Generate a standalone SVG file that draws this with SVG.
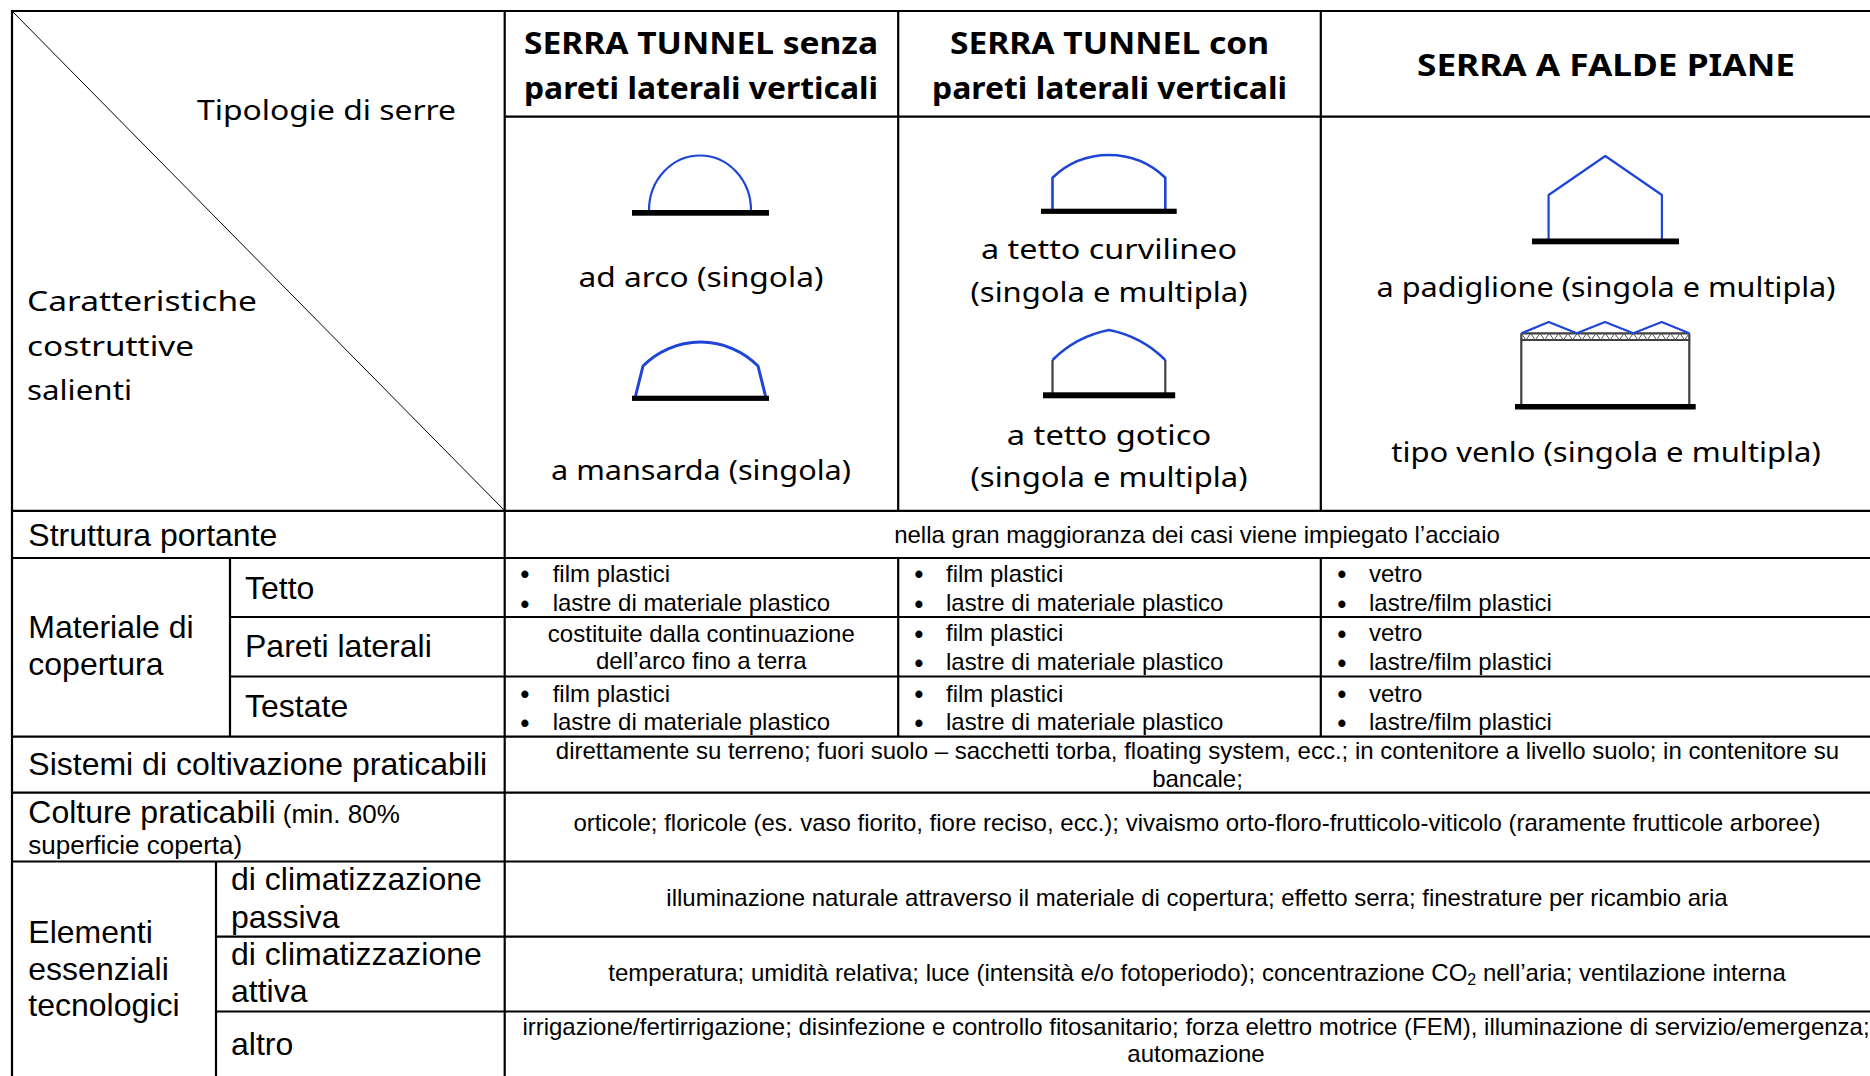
<svg xmlns="http://www.w3.org/2000/svg" width="1870" height="1076" viewBox="0 0 1870 1076">
<defs>
<style>
.grid line{stroke:#000;stroke-width:2.2;fill:none}
.diag{stroke:#000;stroke-width:1;fill:none}
.cb{font-family:"Comic Sans MS","Noto Sans",sans-serif;font-weight:bold;font-size:30px;fill:#000}
.cr{font-family:"Comic Sans MS","Noto Sans",sans-serif;font-size:28px;fill:#000}
.lb{font-family:"Liberation Sans",Arial,sans-serif;font-size:32px;fill:#000}
.tx{font-family:"Liberation Sans",Arial,sans-serif;font-size:24px;fill:#000}
.sm{font-family:"Liberation Sans",Arial,sans-serif;font-size:26px;fill:#000}
.bu{font-family:"Liberation Sans",Arial,sans-serif;font-size:25px;font-weight:bold;fill:#000}
.mid{text-anchor:middle}
.blue{stroke:#1f45d6;stroke-width:2.2;fill:none;stroke-linejoin:round}
.gray{stroke:#404040;stroke-width:2.2;fill:none}
.base{fill:#000}
</style>
</defs>
<rect x="0" y="0" width="1870" height="1076" fill="#fff"/>

<g id="grid" class="grid">
<line x1="12" y1="11" x2="1870" y2="11"/>
<line x1="504.5" y1="116.7" x2="1870" y2="116.7"/>
<line x1="12" y1="510.8" x2="1870" y2="510.8"/>
<line x1="12" y1="558" x2="1870" y2="558"/>
<line x1="230" y1="617" x2="1870" y2="617"/>
<line x1="230" y1="676.5" x2="1870" y2="676.5"/>
<line x1="12" y1="736.7" x2="1870" y2="736.7"/>
<line x1="12" y1="792.7" x2="1870" y2="792.7"/>
<line x1="12" y1="861.5" x2="1870" y2="861.5"/>
<line x1="216" y1="936.7" x2="1870" y2="936.7"/>
<line x1="216" y1="1011.5" x2="1870" y2="1011.5"/>
<line x1="12" y1="10" x2="12" y2="1076"/>
<line x1="504.7" y1="10" x2="504.7" y2="1076"/>
<line x1="898.2" y1="10" x2="898.2" y2="510.8"/>
<line x1="898.2" y1="558" x2="898.2" y2="736.7"/>
<line x1="1320.8" y1="10" x2="1320.8" y2="510.8"/>
<line x1="1320.8" y1="558" x2="1320.8" y2="736.7"/>
<line x1="230" y1="558" x2="230" y2="736.7"/>
<line x1="216" y1="861.5" x2="216" y2="1076"/>
</g>
<line id="diagonal" class="diag" x1="12" y1="11" x2="504.5" y2="510.5"/>

<g id="corner">
<text class="cr" x="197" y="120" textLength="259" lengthAdjust="spacingAndGlyphs">Tipologie di serre</text>
<text class="cr" x="27" y="311" textLength="230" lengthAdjust="spacingAndGlyphs">Caratteristiche</text>
<text class="cr" x="27" y="355.5" textLength="167" lengthAdjust="spacingAndGlyphs">costruttive</text>
<text class="cr" x="27" y="400" textLength="105" lengthAdjust="spacingAndGlyphs">salienti</text>
</g>

<g id="head-tunnel-senza">
<text class="cb mid" x="701" y="54" textLength="354" lengthAdjust="spacingAndGlyphs">SERRA TUNNEL senza</text>
<text class="cb mid" x="701" y="99" textLength="354" lengthAdjust="spacingAndGlyphs">pareti laterali verticali</text>
</g>
<g id="head-tunnel-con">
<text class="cb mid" x="1109.5" y="54" textLength="319" lengthAdjust="spacingAndGlyphs">SERRA TUNNEL con</text>
<text class="cb mid" x="1109.5" y="99" textLength="355" lengthAdjust="spacingAndGlyphs">pareti laterali verticali</text>
</g>
<g id="head-falde">
<text class="cb mid" x="1606" y="76" textLength="378" lengthAdjust="spacingAndGlyphs">SERRA A FALDE PIANE</text>
</g>

<g id="type-arco">
<path class="blue" d="M649,210.5 A51,55 0 0 1 751,210.5"/>
<rect class="base" x="632" y="210" width="137" height="5.7"/>
<text class="cr mid" x="701" y="287" textLength="245" lengthAdjust="spacingAndGlyphs">ad arco (singola)</text>
</g>
<g id="type-mansarda">
<path class="blue" d="M635.5,396 L643,366 A81,81 0 0 1 758,366 L765.5,396" style="stroke-width:3"/>
<rect class="base" x="632" y="395.7" width="137" height="5.2"/>
<text class="cr mid" x="701" y="480" textLength="300" lengthAdjust="spacingAndGlyphs">a mansarda (singola)</text>
</g>

<g id="type-curvilineo">
<path class="blue" style="stroke-width:2.6" d="M1052.5,209 V177.7 A81.4,81.4 0 0 1 1165.3,177.7 V209"/>
<rect class="base" x="1041" y="208.7" width="135.7" height="5.2"/>
<text class="cr mid" x="1109" y="259" textLength="256" lengthAdjust="spacingAndGlyphs">a tetto curvilineo</text>
<text class="cr mid" x="1109" y="302" textLength="277" lengthAdjust="spacingAndGlyphs">(singola e multipla)</text>
</g>
<g id="type-gotico">
<path class="gray" d="M1052.5,393 V360 M1165.3,393 V360"/>
<path class="blue" style="stroke-width:2.6" d="M1052.5,360 A110,110 0 0 1 1109,330 A110,110 0 0 1 1165.3,360"/>
<rect class="base" x="1043" y="392.3" width="132.2" height="6"/>
<text class="cr mid" x="1109" y="444.5" textLength="204.5" lengthAdjust="spacingAndGlyphs">a tetto gotico</text>
<text class="cr mid" x="1109" y="487" textLength="277" lengthAdjust="spacingAndGlyphs">(singola e multipla)</text>
</g>

<g id="type-padiglione">
<path class="blue" d="M1548.6,239 V195 L1605.3,156 L1661.9,195 V239"/>
<rect class="base" x="1532" y="238.5" width="147" height="5.8"/>
<text class="cr mid" x="1606" y="297" textLength="459" lengthAdjust="spacingAndGlyphs">a padiglione (singola e multipla)</text>
</g>
<g id="type-venlo">
<path class="gray" d="M1521.3,404.5 V333.3 M1689.3,404.5 V333.3 M1521.3,333.3 H1689.3 M1521.3,340 H1689.3"/>
<polyline fill="none" stroke="#555" stroke-width="1" points="1521.3,333.3 1526,340 1530.6,333.3 1535.3,340 1540,333.3 1544.6,340 1549.3,333.3 1554,340 1558.6,333.3 1563.3,340 1568,333.3 1572.6,340 1577.3,333.3 1582,340 1586.6,333.3 1591.3,340 1596,333.3 1600.6,340 1605.3,333.3 1610,340 1614.6,333.3 1619.3,340 1624,333.3 1628.6,340 1633.3,333.3 1638,340 1642.6,333.3 1647.3,340 1652,333.3 1656.6,340 1661.3,333.3 1666,340 1670.6,333.3 1675.3,340 1680,333.3 1684.6,340 1689.3,333.3"/>
<polyline class="blue" points="1521.3,333.3 1548.7,322 1576.7,333.3 1605,322 1633.3,333.3 1661.7,322 1689.3,333.3"/>
<rect class="base" x="1515" y="404" width="180.7" height="5.5"/>
<text class="cr mid" x="1606" y="461.5" textLength="429.5" lengthAdjust="spacingAndGlyphs">tipo venlo (singola e multipla)</text>
</g>

<g id="row-struttura">
<text class="lb" x="28.3" y="545.7">Struttura portante</text>
<text class="tx mid" x="1197" y="542.7">nella gran maggioranza dei casi viene impiegato l’acciaio</text>
</g>

<g id="row-materiale">
<text class="lb" x="28.3" y="638.3">Materiale di</text>
<text class="lb" x="28.3" y="675">copertura</text>
<text class="lb" x="245" y="599">Tetto</text>
<text class="lb" x="245" y="657.3">Pareti laterali</text>
<text class="lb" x="245" y="717.3">Testate</text>
</g>

<g id="cell-tetto-senza">
<text class="bu mid" x="525" y="583.2">•</text><text class="tx" x="552.7" y="581.7">film plastici</text>
<text class="bu mid" x="525" y="612.5">•</text><text class="tx" x="552.7" y="611">lastre di materiale plastico</text>
</g>
<g id="cell-tetto-con">
<text class="bu mid" x="919" y="583.2">•</text><text class="tx" x="946" y="581.7">film plastici</text>
<text class="bu mid" x="919" y="612.5">•</text><text class="tx" x="946" y="611">lastre di materiale plastico</text>
</g>
<g id="cell-tetto-falde">
<text class="bu mid" x="1342" y="583.2">•</text><text class="tx" x="1369" y="581.7">vetro</text>
<text class="bu mid" x="1342" y="612.5">•</text><text class="tx" x="1369" y="611">lastre/film plastici</text>
</g>

<g id="cell-pareti-senza">
<text class="tx mid" x="701.3" y="641.7">costituite dalla continuazione</text>
<text class="tx mid" x="701.3" y="669.3">dell’arco fino a terra</text>
</g>
<g id="cell-pareti-con">
<text class="bu mid" x="919" y="642.7">•</text><text class="tx" x="946" y="641.2">film plastici</text>
<text class="bu mid" x="919" y="671.5">•</text><text class="tx" x="946" y="670">lastre di materiale plastico</text>
</g>
<g id="cell-pareti-falde">
<text class="bu mid" x="1342" y="642.7">•</text><text class="tx" x="1369" y="641.2">vetro</text>
<text class="bu mid" x="1342" y="671.5">•</text><text class="tx" x="1369" y="670">lastre/film plastici</text>
</g>

<g id="cell-testate-senza">
<text class="bu mid" x="525" y="703.2">•</text><text class="tx" x="552.7" y="701.7">film plastici</text>
<text class="bu mid" x="525" y="731.5">•</text><text class="tx" x="552.7" y="730">lastre di materiale plastico</text>
</g>
<g id="cell-testate-con">
<text class="bu mid" x="919" y="703.2">•</text><text class="tx" x="946" y="701.7">film plastici</text>
<text class="bu mid" x="919" y="731.5">•</text><text class="tx" x="946" y="730">lastre di materiale plastico</text>
</g>
<g id="cell-testate-falde">
<text class="bu mid" x="1342" y="703.2">•</text><text class="tx" x="1369" y="701.7">vetro</text>
<text class="bu mid" x="1342" y="731.5">•</text><text class="tx" x="1369" y="730">lastre/film plastici</text>
</g>

<g id="row-sistemi">
<text class="lb" x="28.3" y="775">Sistemi di coltivazione praticabili</text>
<text class="tx mid" x="1197.5" y="759.3">direttamente su terreno; fuori suolo – sacchetti torba, floating system, ecc.; in contenitore a livello suolo; in contenitore su</text>
<text class="tx mid" x="1197.5" y="786.7">bancale;</text>
</g>

<g id="row-colture">
<text class="lb" x="28.3" y="822.7">Colture praticabili<tspan style="font-size:26px"> (min. 80%</tspan></text>
<text class="sm" x="28.3" y="854">superficie coperta)</text>
<text class="tx mid" x="1197" y="831">orticole; floricole (es. vaso fiorito, fiore reciso, ecc.); vivaismo orto-floro-frutticolo-viticolo (raramente frutticole arboree)</text>
</g>

<g id="row-elementi">
<text class="lb" x="28.3" y="943.3">Elementi</text>
<text class="lb" x="28.3" y="980">essenziali</text>
<text class="lb" x="28.3" y="1016">tecnologici</text>
</g>
<g id="row-passiva">
<text class="lb" x="231" y="890">di climatizzazione</text>
<text class="lb" x="231" y="927.5">passiva</text>
<text class="tx mid" x="1197" y="906">illuminazione naturale attraverso il materiale di copertura; effetto serra; finestrature per ricambio aria</text>
</g>
<g id="row-attiva">
<text class="lb" x="231" y="965">di climatizzazione</text>
<text class="lb" x="231" y="1001.5">attiva</text>
<text class="tx mid" x="1197" y="981">temperatura; umidità relativa; luce (intensità e/o fotoperiodo); concentrazione CO<tspan style="font-size:16px" dy="4">2</tspan><tspan dy="-4"> nell’aria; ventilazione interna</tspan></text>
</g>
<g id="row-altro">
<text class="lb" x="231" y="1055">altro</text>
<text class="tx mid" x="1196" y="1035">irrigazione/fertirrigazione; disinfezione e controllo fitosanitario; forza elettro motrice (FEM), illuminazione di servizio/emergenza;</text>
<text class="tx mid" x="1196" y="1062">automazione</text>
</g>
</svg>
